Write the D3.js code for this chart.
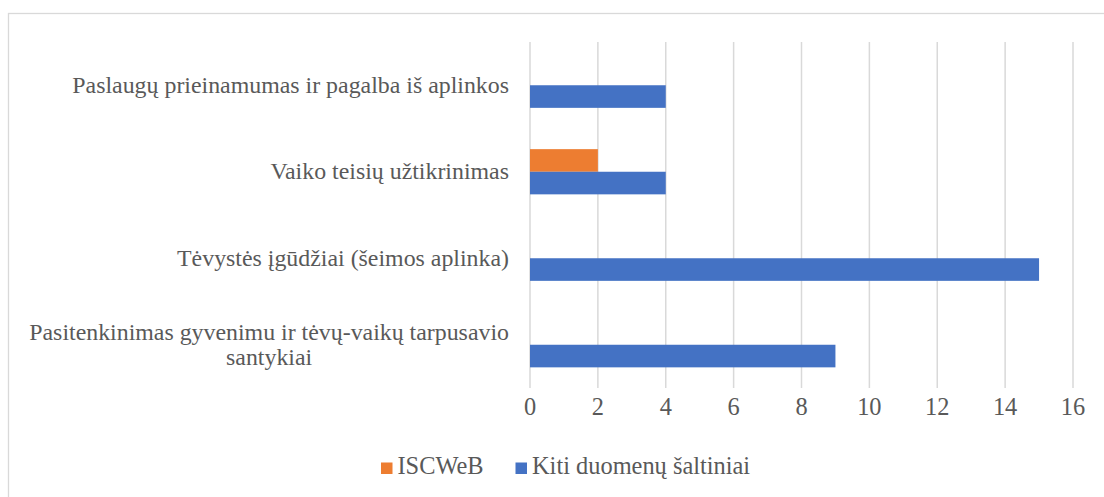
<!DOCTYPE html>
<html>
<head>
<meta charset="utf-8">
<script src="https://cdn.jsdelivr.net/npm/d3@7"></script>
<style>
  body { margin: 0; background: #fff; }
  svg text { fill: #595959; }
</style>
</head>
<body>
<div id="chart"></div>
<script>
var width = 1104,
    height = 497;

// categories from top to bottom
var categories = [
  "Paslaugų prieinamumas ir pagalba iš aplinkos",
  "Vaiko teisių užtikrinimas",
  "Tėvystės įgūdžiai (šeimos aplinka)",
  "Pasitenkinimas gyvenimu ir tėvų-vaikų tarpusavio santykiai"
];
var seriesNames = ["ISCWeB", "Kiti duomenų šaltiniai"];
var iscweb = [0, 2, 0, 0];
var kiti = [4, 4, 15, 9];
var xTicks = [0, 2, 4, 6, 8, 10, 12, 14, 16];
var colors = ["#ED7D31", "#4472C4"];

var fontFam = "'Liberation Serif', 'DejaVu Serif', serif";

var svg = d3.select("#chart").append("svg")
    .attr("width", width)
    .attr("height", height)
    .style("font-family", fontFam);

// font size so the first label is ~437px wide, whichever serif is found
var probe = svg.append("text").attr("font-size", 22.5).text(categories[0]);
var k = 437 / probe.node().getComputedTextLength();
probe.remove();
var fs = 22.5 * k, fsTick = 23 * k;

// chart border
svg.append("rect")
    .attr("x", 8.5).attr("y", 13.5)
    .attr("width", width).attr("height", height)
    .attr("fill", "none")
    .attr("stroke", "#d9d9d9")
    .attr("stroke-width", 1.3);

var x = d3.scaleLinear().domain([0, 16]).range([530, 1073]);
var y = d3.scaleBand().domain(categories).range([42, 388]);
var ySub = d3.scaleBand().domain(seriesNames)
    .range([0, y.bandwidth()])
    .paddingInner(0).paddingOuter(0.914);

// gridlines
svg.append("g").selectAll("line")
    .data(xTicks)
    .enter().append("line")
    .attr("x1", function(d){ return x(d); })
    .attr("x2", function(d){ return x(d); })
    .attr("y1", 42).attr("y2", 388)
    .attr("stroke", "#d9d9d9")
    .attr("stroke-width", 1.5);

// tick labels
svg.append("g").selectAll("text")
    .data(xTicks)
    .enter().append("text")
    .attr("x", function(d){ return x(d); })
    .attr("y", 415)
    .attr("text-anchor", "middle")
    .attr("font-size", fsTick)
    .text(function(d){ return d; });

var rows = categories.map(function(c, i){
  return { cat: c, values: [iscweb[i], kiti[i]] };
});

var groups = svg.append("g").selectAll("g")
    .data(rows)
    .enter().append("g")
    .attr("transform", function(d){ return "translate(0," + y(d.cat) + ")"; });

groups.selectAll("rect")
    .data(function(d){ return d.values.map(function(v, j){ return { s: seriesNames[j], v: v, j: j }; }); })
    .enter().append("rect")
    .attr("x", x(0))
    .attr("y", function(d){ return ySub(d.s); })
    .attr("width", function(d){ return x(d.v) - x(0); })
    .attr("height", ySub.bandwidth())
    .attr("fill", function(d){ return colors[d.j]; });

// category labels, wrapped, block right-aligned, lines centered
var labelRight = 509, maxW = 490;
categories.forEach(function(c){
  var t = svg.append("text").attr("font-size", fs);
  var words = c.split(" "), lines = [], cur = [];
  words.forEach(function(w){
    var test = cur.concat([w]).join(" ");
    t.text(test);
    if (t.node().getComputedTextLength() > maxW && cur.length) {
      lines.push(cur.join(" "));
      cur = [w];
    } else {
      cur.push(w);
    }
  });
  lines.push(cur.join(" "));
  var widths = lines.map(function(l){ t.text(l); return t.node().getComputedTextLength(); });
  var blockW = d3.max(widths);
  var cx = labelRight - blockW / 2;
  var cy = y(c) + y.bandwidth() / 2;
  var lh = 25;
  t.text(null).attr("text-anchor", "middle");
  lines.forEach(function(l, i){
    t.append("tspan")
      .attr("x", cx)
      .attr("y", cy + 7.5 + (i - (lines.length - 1) / 2) * lh)
      .text(l);
  });
});

// legend
var legendItems = [
  { name: seriesNames[0], color: colors[0], x: 381 },
  { name: seriesNames[1], color: colors[1], x: 515.5 }
];
var lg = svg.append("g").selectAll("g")
    .data(legendItems)
    .enter().append("g");
lg.append("rect")
    .attr("x", function(d){ return d.x; })
    .attr("y", 462.5)
    .attr("width", 11.5).attr("height", 11.5)
    .attr("fill", function(d){ return d.color; });
lg.append("text")
    .attr("x", function(d){ return d.x + 16.5; })
    .attr("y", 473.5)
    .attr("font-size", fsTick)
    .text(function(d){ return d.name; });
</script>
</body>
</html>
